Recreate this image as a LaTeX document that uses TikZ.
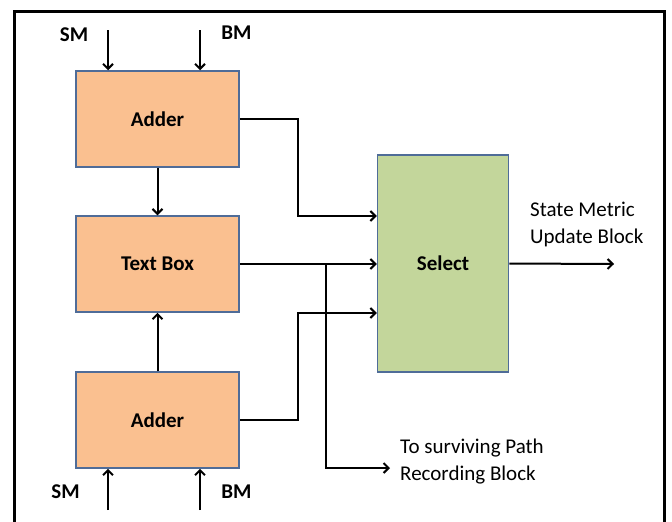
\documentclass[tikz,border=0pt]{standalone}
\usepackage{fontspec}
\setmainfont{Carlito}
\usetikzlibrary{arrows.meta}
\tikzset{arr/.style = {line width=2, -{Straight Barb[length=5,width=10]}}}
\tikzset{blk/.style = {draw=mframe, line width=1.5, inner sep=0,
                       minimum width=163, minimum height=96,
                       font=\bfseries\fontsize{21}{25}\selectfont}}
\tikzset{lbl/.style = {font=\bfseries\fontsize{21}{25}\selectfont, inner sep=0}}
\tikzset{note/.style = {font=\fontsize{21}{27}\selectfont, align=left, anchor=west, inner sep=0}}
\definecolor{morange}{RGB}{250, 192, 144}
\definecolor{mgreen}{RGB}{195, 214, 155}
\definecolor{mframe}{RGB}{79, 108, 152}

\begin{document}
\begin{tikzpicture}[x=1pt, y=-1pt]
    \useasboundingbox (0, 0) rectangle (672, 522);
    \draw [line width=3] (14, 540) -- (14, 11.5) -- (664, 11.5) -- (664, 540);

    % blocks
    \node [blk, fill=morange] (adderA) at (157.5, 119) {Adder};
    \node [blk, fill=morange] (textbox) at (157.5, 264) {Text Box};
    \node [blk, fill=morange] (adderB) at (157.5, 420) {Adder};
    \node [blk, fill=mgreen, minimum width=131, minimum height=217] (select) at (443, 263.5) {Select};

    % inputs
    \node [lbl] (smA) at (74, 35) {SM};
    \node [lbl] (bmA) at (236.5, 33) {BM};
    \node [lbl] (smB) at (65.5, 492) {SM};
    \node [lbl] (bmB) at (236.5, 492) {BM};
    \coordinate (inSMa) at (108, 30);
    \coordinate (inBMa) at (200, 30);
    \coordinate (inSMb) at (108, 510);
    \coordinate (inBMb) at (200, 510);
    \draw [arr] (inSMa) -- (inSMa |- adderA.north);
    \draw [arr] (inBMa) -- (inBMa |- adderA.north);
    \draw [arr] (inSMb) -- (inSMb |- adderB.south);
    \draw [arr] (inBMb) -- (inBMb |- adderB.south);

    \draw [arr] (adderA) -- (textbox);
    \draw [arr] (adderB) -- (textbox);

    % into select
    \coordinate (jA) at (298, 216);
    \coordinate (jB) at (298, 313);
    \draw [arr] (adderA.east) -| (jA) -- (jA -| select.west);
    \draw [arr] (textbox.east) -- (textbox.east -| select.west);
    \draw [arr] (adderB.east) -| (jB) -- (jB -| select.west);

    % outputs
    \coordinate (tap) at (326, 264);
    \coordinate (rec) at (390, 468);
    \coordinate (out) at (614, 264);
    \draw [arr] (tap) |- (rec);
    \draw [arr] (select.east) -- (out);
    \node [note] (update) at (530, 224) {State Metric\\Update Block};
    \node [note] (path) at (400, 462) {To surviving Path\\Recording Block};
\end{tikzpicture}
\end{document}
